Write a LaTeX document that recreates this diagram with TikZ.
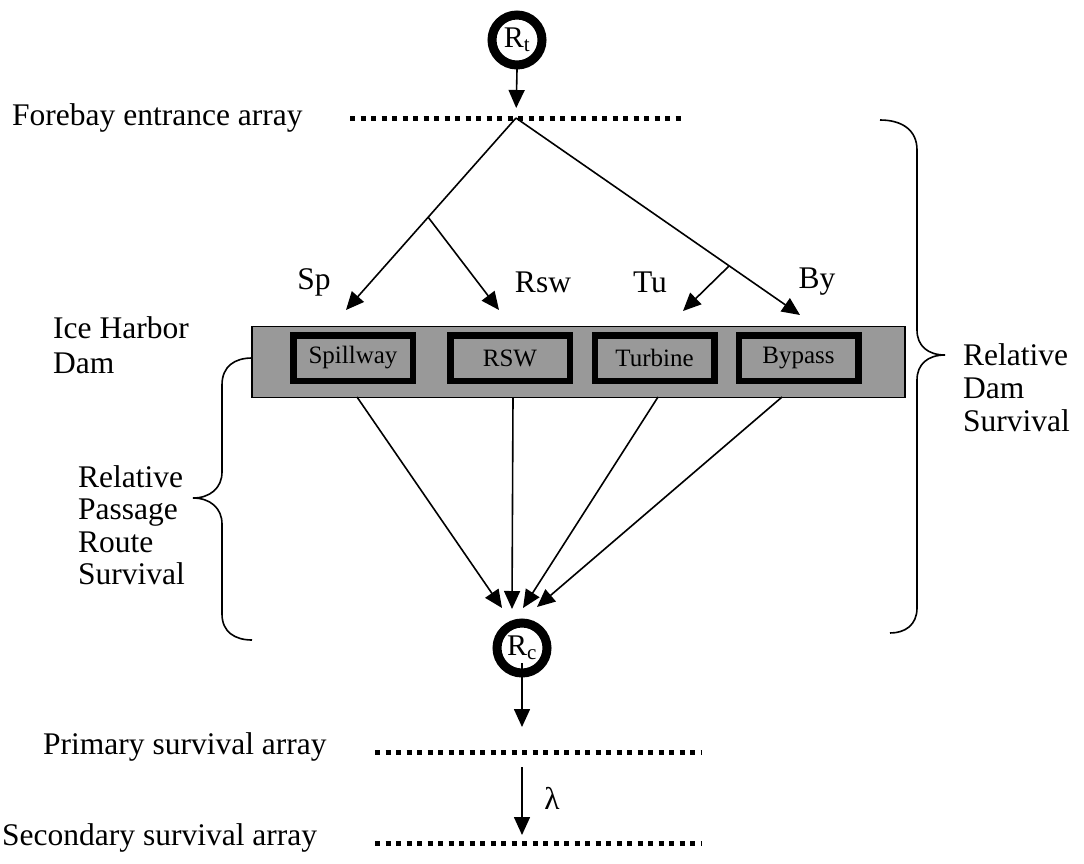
\documentclass[tikz,border=0pt]{standalone}
\usepackage{fontspec}
\setmainfont{Liberation Serif}
\usetikzlibrary{arrows.meta}
\definecolor{damgray}{HTML}{999999}
\begin{document}
\begin{tikzpicture}[x=1pt,y=-1pt,
  conn/.style={line width=1.6pt,-{Triangle[length=18pt,width=16pt]}},
  plain/.style={line width=1.6pt},
  dots/.style={line width=5pt,dash pattern=on 5pt off 5.5pt},
  ring/.style={circle,draw,line width=9pt,minimum size=50pt,inner sep=0pt,font=\fontsize{30}{32}\selectfont},
  route/.style={draw,line width=6.5pt,fill=damgray,minimum width=119.5pt,minimum height=45.5pt,inner sep=0pt,font=\fontsize{25}{28}\selectfont},
  lbl/.style={font=\fontsize{31.5}{33}\selectfont,inner sep=0pt},
  bracestyle/.style={line width=1.6pt}
]
\useasboundingbox (0,0) rectangle (1084,863);

% top node and forebay array
\node[ring] (Rt) at (517,40) {R\textsubscript{t}};
\coordinate (fbL) at (350,118);
\coordinate (fbR) at (683,118);
\coordinate (fbc) at (516,118);
\draw[dots] (fbL) -- (fbR);
\node[lbl,anchor=west] (fblab) at (12,118) {Forebay entrance array};
\draw[conn,shorten <=-3pt,shorten >=10pt] (Rt.south) -- (fbc);

% branches
\coordinate (sptip) at (346,310);
\coordinate (rswtip) at (499,310);
\coordinate (tutip) at (683,311);
\coordinate (bytip) at (800,315);
\coordinate (rsplit) at (428,217);
\coordinate (tsplit) at (729,266);
\draw[conn] (fbc) -- (sptip);
\draw[conn] (rsplit) -- (rswtip);
\draw[conn] (fbc) -- (bytip);
\draw[conn] (tsplit) -- (tutip);
\node[lbl] (sp) at (314,282) {Sp};
\node[lbl] (rsw) at (543,282) {Rsw};
\node[lbl] (tu) at (650,282) {Tu};
\node[lbl] (by) at (817,282) {By};

% dam
\node[draw,line width=1.5pt,fill=damgray,minimum width=653pt,minimum height=71pt,inner sep=0pt] (dam) at (578.5,362) {};
\node[route] (spill) at (353,358) {Spillway};
\node[route] (rswb) at (510,358) {RSW};
\node[route] (turb) at (654.5,358) {Turbine};
\node[route] (byp) at (798.5,358) {Bypass};
\node[lbl,anchor=west,align=left,font=\fontsize{31.5}{35}\selectfont] (ice) at (53,345) {Ice Harbor\\Dam};

% collection node
\node[ring] (Rc) at (522,648) {R\textsubscript{c}};
\coordinate (s1) at (357,397);
\coordinate (s2) at (513,397);
\coordinate (s3) at (658,397);
\coordinate (s4) at (782,397);
\coordinate (t1) at (502,608);
\coordinate (t2) at (512,609);
\coordinate (t3) at (523,608);
\coordinate (t4) at (537,607);
\draw[conn] (s1) -- (t1);
\draw[conn] (s2) -- (t2);
\draw[conn] (s3) -- (t3);
\draw[conn] (s4) -- (t4);

% lower arrays
\coordinate (pL) at (375,752);
\coordinate (pR) at (702,752);
\coordinate (pc) at (522,752);
\coordinate (sL) at (375,843);
\coordinate (sR) at (702,843);
\coordinate (sc) at (522,843);
\draw[dots] (pL) -- (pR);
\draw[dots] (sL) -- (sR);
\draw[conn,shorten <=15pt,shorten >=25pt] (Rc.center) -- (pc);
\draw[conn,shorten <=15pt,shorten >=8pt] (pc) -- (sc);
\node[lbl] (lam) at (552,798) {λ};
\node[lbl,anchor=west] (plab) at (43,747) {Primary survival array};
\node[lbl,anchor=west] (slab) at (2,838) {Secondary survival array};

% braces
\draw[bracestyle] (252,358) .. controls (235,358) and (222,366) .. (222,385) -- (222,472) .. controls (222,488) and (210,498) .. (193,498) .. controls (210,498) and (222,508) .. (222,524) -- (222,614) .. controls (222,632) and (235,640) .. (252,640);
\node[lbl,anchor=west,align=left,font=\fontsize{31.5}{32.5}\selectfont] (rprs) at (78,525) {Relative\\Passage\\Route\\Survival};

\draw[bracestyle] (880,120) .. controls (902,120) and (917,130) .. (917,150) -- (917,330) .. controls (917,346) and (928,355) .. (945,355) .. controls (928,355) and (917,364) .. (917,380) -- (917,608) .. controls (917,625) and (905,633) .. (890,633);
\node[lbl,anchor=west,align=left,font=\fontsize{31.5}{33}\selectfont] (rds) at (963,388) {Relative\\Dam\\Survival};
\end{tikzpicture}
\end{document}
